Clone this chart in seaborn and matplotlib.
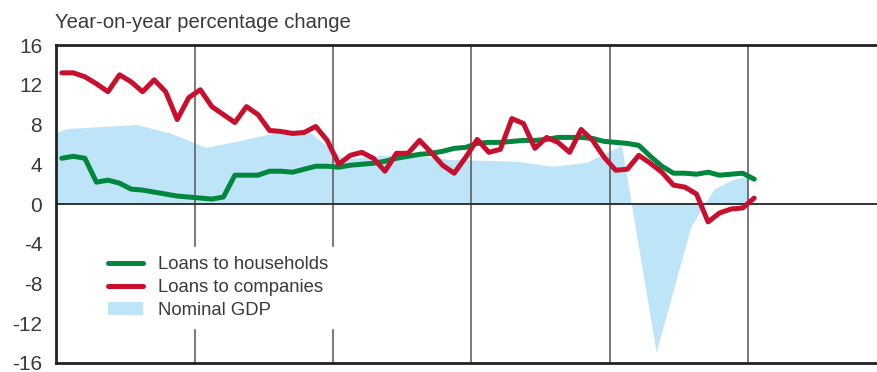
import numpy as np
import pandas as pd
import matplotlib
matplotlib.use("Agg")
import matplotlib.pyplot as plt
import seaborn as sns
from matplotlib.patches import Patch
from matplotlib.lines import Line2D

# monthly loan growth, months since start of chart (mid-month positions)
months = np.arange(61) + 0.5

households = [4.6, 4.8, 4.6, 2.2, 2.4, 2.1, 1.5, 1.4, 1.2, 1.0, 0.8, 0.7,
              0.6, 0.5, 0.7, 2.9, 2.9, 2.9, 3.3, 3.3, 3.2, 3.5, 3.8, 3.8,
              3.7, 3.9, 4.0, 4.1, 4.3, 4.6, 4.8, 5.0, 5.1, 5.3, 5.6, 5.7,
              6.1, 6.2, 6.2, 6.3, 6.4, 6.4, 6.5, 6.7, 6.7, 6.7, 6.6, 6.3,
              6.2, 6.1, 5.9, 4.8, 3.8, 3.1, 3.1, 3.0, 3.2, 2.9, 3.0, 3.1,
              2.5]

companies = [13.2, 13.2, 12.8, 12.1, 11.3, 13.0, 12.3, 11.3, 12.5, 11.3, 8.5, 10.7,
             11.5, 9.8, 9.0, 8.2, 9.8, 9.0, 7.4, 7.3, 7.1, 7.2, 7.8, 6.4,
             4.0, 4.9, 5.2, 4.6, 3.3, 5.1, 5.1, 6.4, 5.2, 3.9, 3.1, 4.7,
             6.5, 5.2, 5.5, 8.6, 8.1, 5.6, 6.7, 6.2, 5.2, 7.5, 6.4, 4.7,
             3.4, 3.5, 4.9, 4.1, 3.2, 1.9, 1.7, 1.0, -1.8, -0.9, -0.5, -0.4,
             0.6]

# nominal GDP growth
gdp_months = [0, 1, 4, 7, 10, 13, 16, 19, 22, 25, 28, 31, 34, 37, 40, 43,
              46, 49, 52, 55, 57, 58.7, 60]
gdp = [7.2, 7.6, 7.8, 8.0, 7.1, 5.7, 6.4, 7.2, 7.2, 4.5, 4.9, 4.9, 4.5, 4.4,
       4.3, 3.8, 4.2, 5.9, -14.9, -2.3, 1.5, 2.5, 2.8]

year_lines = [12, 24, 36, 48, 60]
y_ticks = [-16, -12, -8, -4, 0, 4, 8, 12, 16]

green = "#00873d"
red = "#c8102e"
blue = "#bde4f7"
ink = "#3a3a3a"

sns.set_style("white")
plt.rcParams["font.family"] = ["Liberation Sans", "DejaVu Sans"]
plt.rcParams["axes.unicode_minus"] = False

df = pd.DataFrame({"month": months, "households": households, "companies": companies})

fig = plt.figure(figsize=(8.77, 3.72), dpi=100)
ax = fig.add_axes([0.0639, 0.0242, 0.9361, 0.8548])

ax.fill_between(gdp_months, 0, gdp, color=blue, linewidth=0, zorder=1)
sns.lineplot(data=df, x="month", y="households", color=green, linewidth=3.6,
             ax=ax, zorder=3)
sns.lineplot(data=df, x="month", y="companies", color=red, linewidth=3.6,
             ax=ax, zorder=3)

ax.axhline(0, color="#333333", linewidth=1.4, zorder=2)

ax.set_xlim(0, 71.14)
ax.set_ylim(-16, 16)
ax.set_xticks(year_lines)
ax.set_xticklabels([])
ax.set_yticks(y_ticks)
ax.set_xlabel("")
ax.set_ylabel("")
ax.xaxis.grid(True, color="#555555", linewidth=1.1)
ax.set_axisbelow("line")
ax.tick_params(axis="x", length=0)
ax.tick_params(axis="y", direction="in", length=11, width=1.8, color="#222222",
               labelsize=15, labelcolor=ink, pad=10)

for side in ["left", "bottom", "top"]:
    ax.spines[side].set_linewidth(2.0)
    ax.spines[side].set_color("#222222")
ax.spines["right"].set_visible(False)

fig.text(0.0627, 0.94, "Year-on-year percentage change", fontsize=14.6,
         color=ink, ha="left", va="center")

handles = [Line2D([], [], color=green, linewidth=3.6),
           Line2D([], [], color=red, linewidth=3.6),
           Patch(facecolor=blue, edgecolor="none")]
labels = ["Loans to households", "Loans to companies", "Nominal GDP"]
leg = ax.legend(handles, labels, loc="upper left", bbox_to_anchor=(0.052, 0.365),
                fontsize=13.3, frameon=True, facecolor="white", edgecolor="white",
                framealpha=1, fancybox=False, borderpad=0.5, borderaxespad=0,
                handlelength=1.9, handletextpad=0.8, labelspacing=0.32)
for t in leg.get_texts():
    t.set_color(ink)
leg.set_zorder(4)

fig.savefig("out.png", dpi=100)
